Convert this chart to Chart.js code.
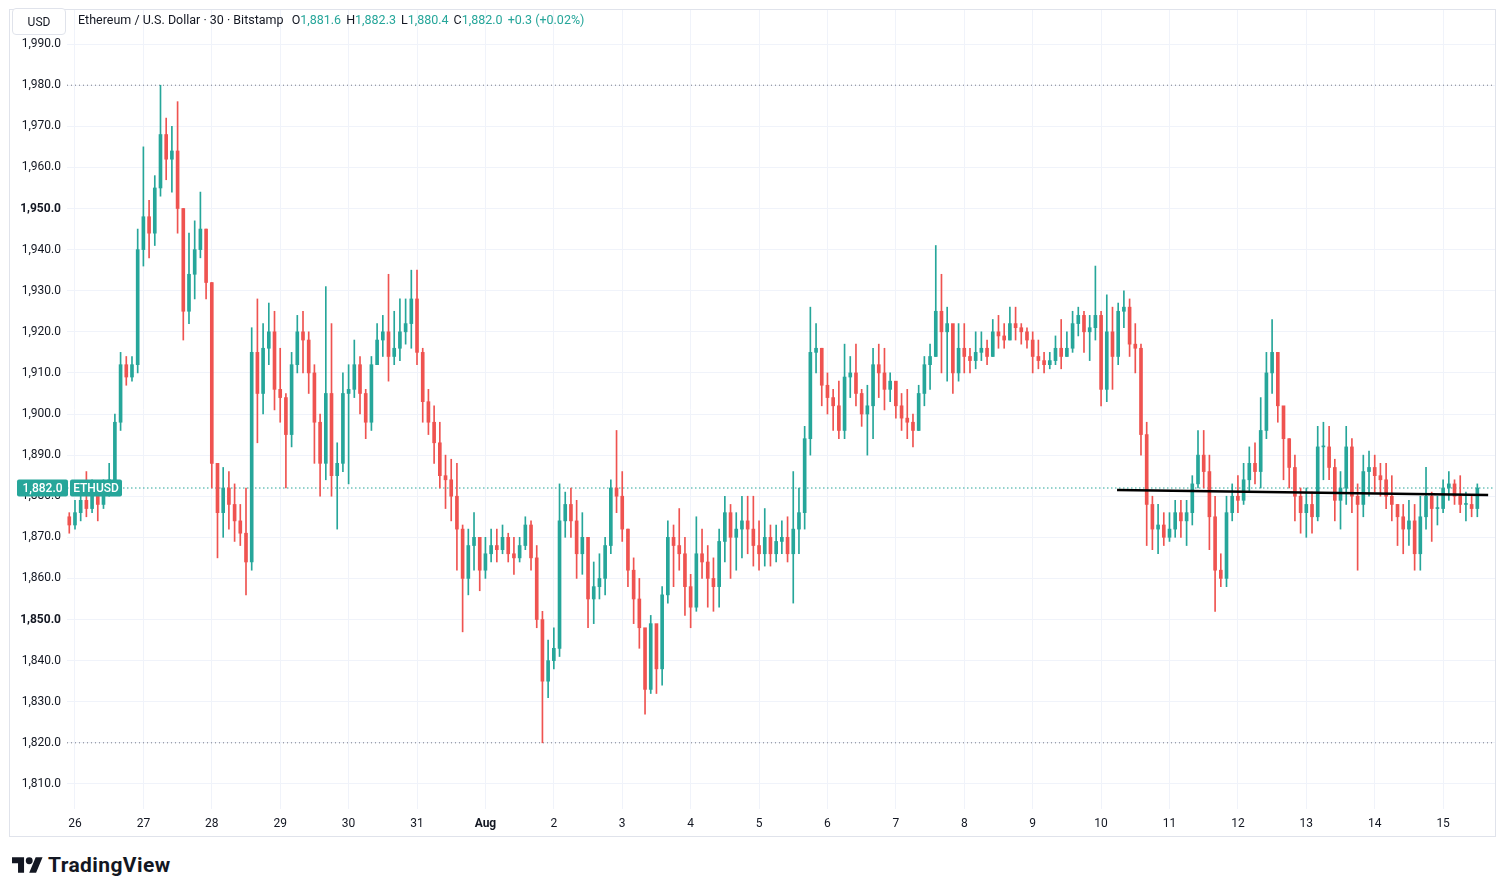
<!DOCTYPE html>
<html>
<head>
<meta charset="utf-8">
<title>ETHUSD 30</title>
<script src="https://cdn.jsdelivr.net/npm/chart.js@4.4.1/dist/chart.umd.min.js"></script>
<style>
    body { margin: 0; background: #fff; font-family: Roboto, "Liberation Sans", sans-serif; color: #131722; }
    #wrap { position: absolute; left: 9px; top: 9px; width: 1487px; height: 828px; }
    #frame { position: absolute; left: 9px; top: 9px; width: 1487px; height: 828px; border: 1px solid #e0e3eb; box-sizing: border-box; pointer-events: none; }
    #usd { position: absolute; left: 12px; top: 8px; width: 54px; height: 27px; line-height: 27px; text-align: center; font-size: 12px; background: #fff; border: 1px solid #e0e3eb; border-radius: 4px; box-sizing: border-box; }
    #legend { position: absolute; left: 78px; top: 12px; font-size: 12.5px; line-height: 15px; white-space: nowrap; }
    #legend .v { color: #26a69a; }
    #legend .k { margin-left: 5px; }
    #logo { position: absolute; left: 12px; top: 853px; display: flex; align-items: center; }
    #logo span { font-weight: bold; font-size: 21px; margin-left: 5px; letter-spacing: 0.4px; }
</style>
</head>
<body>
<div id="wrap"><canvas id="chart" width="1487" height="828"></canvas></div>
<div id="frame"></div>
<div id="usd">USD</div>
<div id="legend"></div>
<div id="logo">
    <svg width="31" height="16" viewBox="0 4 36 18"><path d="M14 22H7V11H0V4h14v18zM28 22h-8l7.5-18h8L28 22z" fill="#131722"/><circle cx="20" cy="8" r="4" fill="#131722"/></svg>
    <span>TradingView</span>
</div>
<script>
// 2-hour candles, starting Jul 25 22:00
var firstOpen = 1875;
var closes = [1873,1876,1879,1877,1880,1878,1882,1884,1898,1912,1909,1912,1940,
    1948,1944,1955,1968,1962,1964,1950,1925,1934,1940,1945,1932,
    1888,1876,1882,1878,1874,1871,1864,1915,1905,1916,1920,1906,
    1904,1895,1912,1920,1918,1910,1898,1888,1905,1885,1888,1905,
    1906,1912,1905,1898,1912,1918,1920,1914,1916,1920,1922,1928,
    1915,1903,1898,1893,1885,1884,1880,1872,1860,1868,1870,1862,
    1866,1868,1867,1870,1866,1865,1868,1873,1865,1850,1835,1840,
    1843,1874,1878,1874,1866,1870,1855,1858,1860,1868,1882,1880,
    1872,1862,1855,1848,1833,1849,1838,1856,1870,1868,1866,1858,
    1853,1866,1864,1860,1858,1869,1876,1870,1872,1874,1872,1868,
    1866,1870,1866,1869,1870,1866,1872,1876,1894,1915,1916,1907,
    1904,1902,1896,1909,1910,1905,1900,1902,1912,1910,1906,1908,
    1902,1899,1898,1896,1905,1912,1914,1925,1920,1922,1910,1916,
    1914,1913,1915,1916,1914,1920,1919,1918,1922,1921,1920,1918,
    1914,1913,1912,1913,1916,1914,1916,1922,1924,1920,1921,1924,
    1906,1920,1914,1925,1926,1917,1916,1895,1878,1872,1873,1870,
    1872,1876,1874,1876,1883,1890,1886,1875,1862,1860,1876,1880,
    1879,1884,1888,1886,1896,1910,1915,1902,1894,1887,1880,1876,
    1878,1875,1892,1892,1887,1879,1882,1892,1880,1878,1886,1887,
    1885,1884,1880,1878,1875,1872,1874,1866,1875,1880,1877,1877,
    1882,1883,1880,1878,1878,1877,1882];
var highs = [1876,1879,1882,1886,1884,1882,1884,1888,1900,1915,1914,1914,1945,
    1965,1952,1958,1980,1972,1970,1976,1950,1944,1947,1954,1945,
    1932,1888,1887,1886,1883,1878,1882,1921,1928,1922,1927,1925,
    1916,1905,1915,1924,1925,1920,1912,1900,1931,1922,1893,1910,
    1912,1918,1914,1906,1914,1922,1924,1934,1925,1928,1928,1935,
    1935,1916,1906,1902,1898,1890,1889,1888,1873,1872,1876,1868,
    1870,1872,1872,1873,1871,1870,1870,1875,1874,1868,1852,1845,
    1848,1883,1881,1882,1879,1876,1866,1864,1866,1870,1884,1896,
    1886,1872,1865,1860,1847,1851,1848,1858,1874,1873,1877,1870,
    1861,1875,1872,1868,1865,1872,1880,1878,1876,1880,1880,1880,
    1874,1877,1873,1873,1874,1875,1886,1882,1897,1926,1922,1916,
    1910,1906,1908,1917,1914,1917,1906,1907,1916,1917,1916,1910,
    1907,1905,1906,1900,1907,1914,1917,1941,1934,1926,1917,1922,
    1922,1916,1920,1920,1918,1923,1924,1922,1926,1926,1922,1921,
    1920,1918,1915,1915,1919,1923,1920,1925,1926,1925,1924,1936,
    1925,1929,1926,1927,1930,1928,1922,1917,1898,1880,1878,1876,
    1876,1879,1879,1879,1885,1896,1896,1890,1880,1866,1880,1883,
    1885,1888,1892,1893,1904,1915,1923,1915,1900,1894,1890,1882,
    1882,1881,1897,1898,1897,1889,1886,1897,1894,1883,1890,1891,
    1890,1888,1888,1885,1878,1878,1879,1878,1880,1887,1881,1880,
    1884,1886,1884,1885,1881,1880,1883];
var lows = [1871,1872,1874,1875,1876,1874,1877,1880,1883,1896,1907,1908,1910,
    1936,1938,1941,1953,1957,1954,1944,1918,1922,1928,1938,1928,
    1882,1865,1870,1872,1869,1868,1856,1862,1893,1900,1912,1901,
    1898,1882,1892,1910,1910,1905,1888,1880,1884,1880,1872,1886,
    1883,1904,1900,1894,1896,1912,1914,1908,1912,1913,1917,1916,
    1912,1898,1895,1888,1882,1877,1874,1862,1847,1856,1862,1857,
    1860,1864,1864,1866,1864,1861,1864,1867,1862,1848,1820,1831,
    1838,1841,1870,1870,1860,1861,1848,1849,1855,1856,1866,1876,
    1869,1858,1849,1843,1827,1832,1832,1834,1854,1858,1862,1851,
    1848,1852,1860,1853,1852,1853,1864,1860,1862,1865,1866,1863,
    1862,1863,1863,1864,1866,1864,1854,1866,1872,1890,1910,1902,
    1900,1896,1894,1894,1904,1902,1897,1890,1894,1904,1901,1903,
    1899,1896,1894,1892,1896,1902,1906,1914,1910,1908,1905,1908,
    1910,1910,1911,1913,1912,1914,1916,1916,1918,1918,1917,1916,
    1910,1911,1910,1911,1912,1911,1914,1915,1919,1915,1913,1918,
    1902,1903,1906,1912,1921,1914,1910,1890,1868,1867,1866,1868,
    1869,1870,1870,1868,1873,1882,1882,1867,1852,1858,1858,1874,
    1876,1878,1881,1883,1882,1894,1905,1898,1884,1882,1874,1871,
    1870,1871,1874,1884,1884,1874,1872,1878,1876,1862,1875,1880,
    1881,1880,1877,1874,1868,1866,1868,1862,1862,1872,1869,1873,
    1876,1879,1878,1876,1874,1875,1875];

var dayLabels = ['26','27','28','29','30','31','Aug','2','3','4','5','6','7','8','9','10','11','12','13','14','15'];
var yTicks = [1810,1820,1830,1840,1850,1860,1870,1880,1890,1900,1910,1920,1930,1940,1950,1960,1970,1980,1990];
var boldTicks = [1850, 1950];
var periodHigh = 1980;
var periodLow = 1820;
var lastPrice = 1882.0;
var legendOHLC = [['O','1,881.6'],['H','1,882.3'],['L','1,880.4'],['C','1,882.0']];
var legendChange = '+0.3 (+0.02%)';
var trendStart = [183.8, 1881.5];
var trendEnd = [248.9, 1880.3];

var UP = '#26a69a', DOWN = '#ef5350';
var X_MIN = -0.4, X_MAX = 250.1;

var opens = closes.map(function (c, i) { return i === 0 ? firstOpen : closes[i - 1]; });
var candleColors = closes.map(function (c, i) { return c >= opens[i] ? UP : DOWN; });
var dayIdx = dayLabels.map(function (d, k) { return 1 + 12 * k; });

// legend text
var legend = document.getElementById('legend');
var html = 'Ethereum / U.S. Dollar · 30 · Bitstamp ';
legendOHLC.forEach(function (p) {
    html += '<span class="k">' + p[0] + '</span><span class="v">' + p[1] + '</span>';
});
html += '<span class="k v">' + legendChange + '</span>';
legend.innerHTML = html;

function fmt(v) {
    return v.toLocaleString('en-US', { minimumFractionDigits: 1, maximumFractionDigits: 1 });
}

function roundRect(ctx, x, y, w, h, r) {
    ctx.beginPath();
    ctx.moveTo(x + r, y);
    ctx.arcTo(x + w, y, x + w, y + h, r);
    ctx.arcTo(x + w, y + h, x, y + h, r);
    ctx.arcTo(x, y + h, x, y, r);
    ctx.arcTo(x, y, x + w, y, r);
    ctx.closePath();
    ctx.fill();
}

var priceBadge = {
    id: 'priceBadge',
    afterDraw: function (chart) {
        var ctx = chart.ctx;
        var y = chart.scales.y.getPixelForValue(lastPrice);
        ctx.save();
        ctx.fillStyle = UP;
        roundRect(ctx, 8, y - 8.5, 51, 17, 2);
        roundRect(ctx, 61, y - 8.5, 52, 17, 2);
        ctx.fillStyle = '#fff';
        ctx.font = '500 12px Roboto';
        ctx.textAlign = 'center';
        ctx.textBaseline = 'middle';
        ctx.fillText(fmt(lastPrice), 33.5, y + 0.5);
        ctx.fillText('ETHUSD', 87, y + 0.5);
        ctx.restore();
    }
};

function hLine(value, color, dash) {
    return {
        type: 'line',
        data: [{ x: X_MIN, y: value }, { x: X_MAX, y: value }],
        borderColor: color,
        borderWidth: 1,
        borderDash: dash,
        pointRadius: 0,
        order: 5
    };
}

var idx = closes.map(function (c, i) { return i; });

new Chart(document.getElementById('chart'), {
    type: 'bar',
    data: {
        datasets: [
            hLine(periodHigh, '#787b86', [1, 3]),
            hLine(periodLow, '#787b86', [1, 3]),
            hLine(lastPrice, UP, [1.5, 2.5]),
            {
                type: 'bar',
                data: idx.map(function (i) { return { x: i, y: [lows[i], highs[i]] }; }),
                backgroundColor: candleColors,
                barThickness: 1,
                grouped: false,
                order: 3
            },
            {
                type: 'bar',
                data: idx.map(function (i) { return { x: i, y: [opens[i], closes[i]] }; }),
                backgroundColor: candleColors,
                barThickness: 3,
                minBarLength: 1,
                grouped: false,
                order: 2
            },
            {
                type: 'line',
                data: [{ x: trendStart[0], y: trendStart[1] }, { x: trendEnd[0], y: trendEnd[1] }],
                borderColor: '#000',
                borderWidth: 2.5,
                pointRadius: 0,
                order: 0
            }
        ]
    },
    options: {
        responsive: false,
        animation: false,
        layout: { padding: { top: 1, right: 1, left: 0, bottom: 0 } },
        plugins: { legend: { display: false }, tooltip: { enabled: false } },
        scales: {
            x: {
                type: 'linear',
                offset: false,
                min: X_MIN,
                max: X_MAX,
                afterBuildTicks: function (s) { s.ticks = dayIdx.map(function (v) { return { value: v }; }); },
                afterFit: function (s) {
                    s.height = 28;
                    s.paddingLeft = 0; s.paddingRight = 0; s.paddingTop = 0; s.paddingBottom = 0;
                },
                grid: { color: '#f0f3fa', drawTicks: false, offset: false },
                border: { display: false },
                ticks: {
                    autoSkip: false,
                    maxRotation: 0,
                    padding: 8,
                    color: '#131722',
                    font: function (c) {
                        var lbl = c.tick ? dayLabels[dayIdx.indexOf(c.tick.value)] : '';
                        return { family: 'Roboto', size: 12, weight: lbl === 'Aug' ? 'bold' : 'normal' };
                    },
                    callback: function (v) { return dayLabels[dayIdx.indexOf(v)]; }
                }
            },
            y: {
                min: 1803.9,
                max: 1998.3,
                afterBuildTicks: function (s) { s.ticks = yTicks.map(function (v) { return { value: v }; }); },
                afterFit: function (s) {
                    s.width = 58;
                    s.paddingLeft = 0; s.paddingRight = 0; s.paddingTop = 0; s.paddingBottom = 0;
                },
                grid: { color: '#f0f3fa', drawTicks: false },
                border: { display: false },
                ticks: {
                    padding: 6,
                    color: '#131722',
                    font: function (c) {
                        var b = c.tick && boldTicks.indexOf(c.tick.value) >= 0;
                        return { family: 'Roboto', size: 12, weight: b ? 'bold' : 'normal' };
                    },
                    callback: function (v) { return fmt(v); }
                }
            }
        }
    },
    plugins: [priceBadge]
});
</script>
</body>
</html>
